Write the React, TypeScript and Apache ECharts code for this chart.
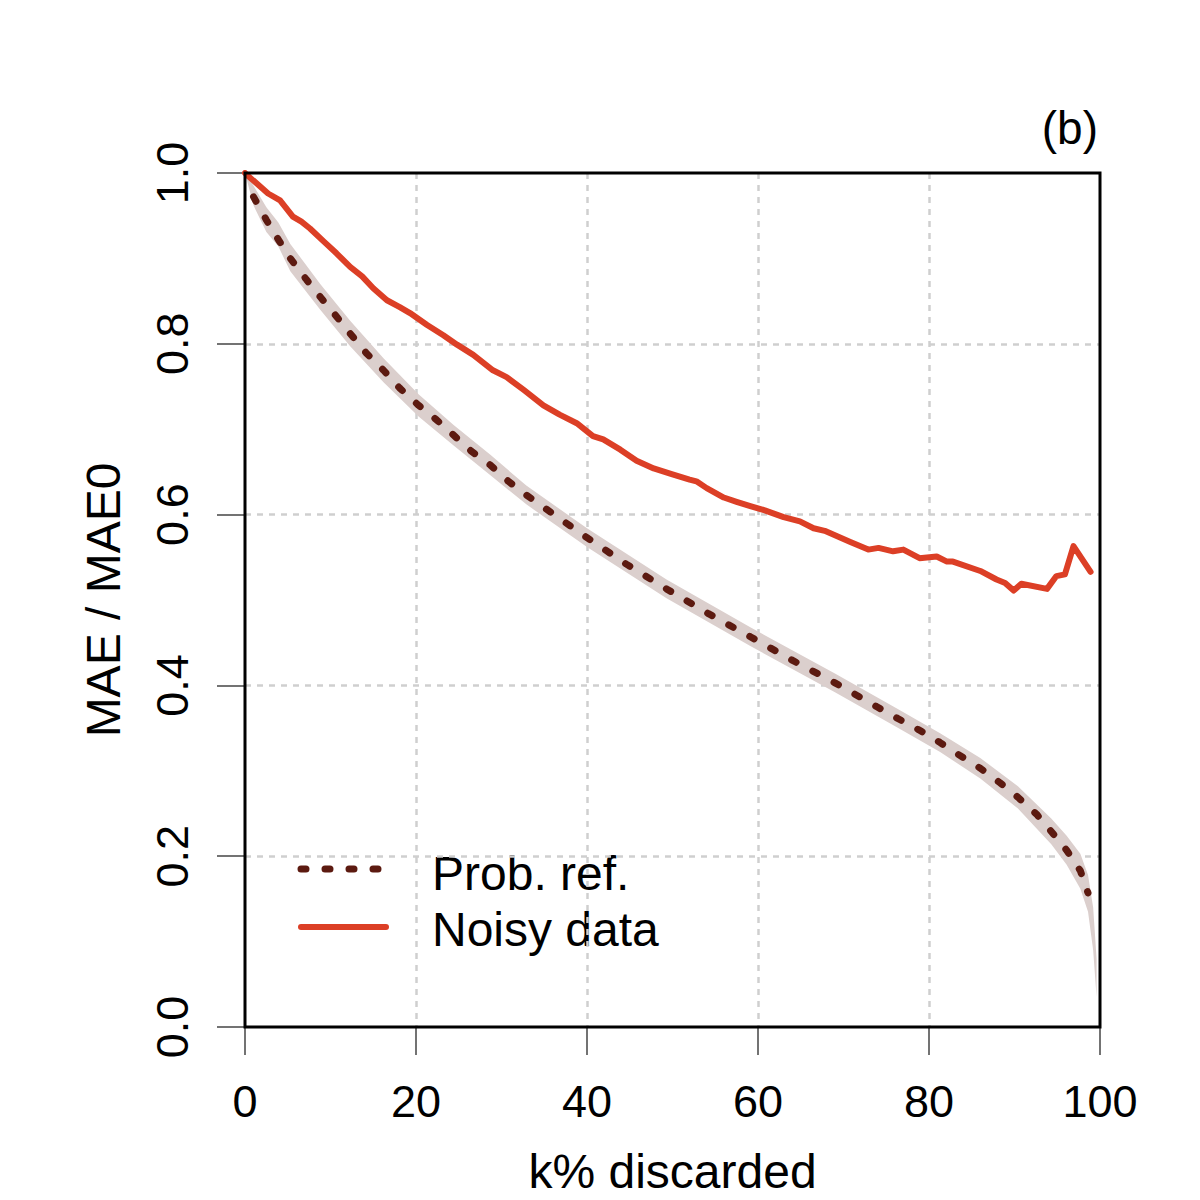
import React, { useEffect, useRef } from "react";
import * as echarts from "echarts";

const xTicks = [0, 20, 40, 60, 80, 100];
const yTicks = [0, 0.2, 0.4, 0.6, 0.8, 1.0];

const noisyX = [0, 0.2, 2.7, 4.1, 5.6, 6.6, 7.6, 9.2, 10.7, 12.3, 13.7, 15.0, 16.6, 18.1, 19.3, 21.3, 23.2, 24.8, 26.7, 29.0, 30.6, 32.6, 34.9, 36.8, 38.8, 40.7, 41.9, 43.9, 45.8, 47.8, 50.0, 52.0, 52.8, 54.0, 56.0, 57.5, 59.1, 60.8, 63.0, 64.9, 66.5, 67.8, 70.8, 72.9, 74.1, 75.8, 77.0, 78.9, 80.9, 82.1, 82.8, 86.0, 87.9, 88.9, 89.9, 90.8, 93.8, 94.9, 95.9, 96.9, 98.9];
const noisyY = [1.0, 0.998, 0.976, 0.968, 0.949, 0.943, 0.935, 0.920, 0.906, 0.890, 0.879, 0.865, 0.851, 0.843, 0.836, 0.822, 0.810, 0.799, 0.787, 0.769, 0.761, 0.746, 0.728, 0.717, 0.707, 0.692, 0.688, 0.676, 0.663, 0.654, 0.647, 0.641, 0.639, 0.631, 0.620, 0.615, 0.610, 0.605, 0.597, 0.592, 0.584, 0.581, 0.568, 0.559, 0.561, 0.557, 0.559, 0.549, 0.551, 0.545, 0.545, 0.534, 0.524, 0.520, 0.511, 0.519, 0.513, 0.528, 0.530, 0.563, 0.533];

const refX = [1.0, 2.5, 3.9, 5.3, 7.2, 8.8, 10.7, 12.3, 14.2, 16.2, 18.1, 20.3, 22.4, 24.4, 26.5, 28.7, 30.8, 32.9, 35.3, 40.0, 44.6, 49.3, 54.2, 59.1, 64.1, 69.0, 73.9, 76.4, 78.8, 81.3, 83.6, 86.0, 88.3, 90.4, 92.6, 94.3, 96.1, 97.7, 98.6];
const refY = [0.972, 0.945, 0.922, 0.900, 0.875, 0.855, 0.832, 0.812, 0.789, 0.769, 0.748, 0.728, 0.711, 0.693, 0.674, 0.658, 0.639, 0.623, 0.606, 0.573, 0.542, 0.513, 0.484, 0.457, 0.429, 0.403, 0.375, 0.361, 0.348, 0.333, 0.318, 0.303, 0.286, 0.269, 0.249, 0.229, 0.207, 0.183, 0.157];

const bandX = [0, 1, 2.5, 3.9, 5.3, 8.8, 12.3, 16.2, 20.3, 24.4, 28.7, 32.9, 40, 49.3, 59.1, 69, 76.4, 81.3, 86, 90.4, 94.3, 96.1, 97.7, 98.6, 99.2, 99.6];
const bandUpper = [1.0, 0.985, 0.960, 0.942, 0.917, 0.870, 0.827, 0.783, 0.741, 0.705, 0.670, 0.634, 0.584, 0.524, 0.468, 0.414, 0.372, 0.344, 0.315, 0.282, 0.244, 0.224, 0.203, 0.178, 0.14, 0.08];
const bandLower = [1.0, 0.962, 0.931, 0.914, 0.885, 0.840, 0.797, 0.755, 0.715, 0.681, 0.646, 0.612, 0.562, 0.502, 0.446, 0.392, 0.350, 0.322, 0.291, 0.256, 0.214, 0.190, 0.162, 0.135, 0.09, 0.035];

const FONT = "Liberation Sans, Arial, sans-serif";
const REF_COLOR = "#5c1a10";
const NOISY_COLOR = "#dc3f26";
const BAND_COLOR = "#dbcfcd";

export default function App() {
  const ref = useRef<HTMLDivElement>(null);
  useEffect(() => {
    if (!ref.current) return;
    const chart = echarts.init(ref.current, null, { renderer: "svg" });
    const option: any = {
      animation: false,
      backgroundColor: "#fff",
      textStyle: { fontFamily: FONT },
      grid: {
        left: 245,
        top: 173,
        width: 855,
        height: 854,
        show: false,
        containLabel: false,
      },
      xAxis: {
        type: "value",
        min: xTicks[0],
        max: xTicks[xTicks.length - 1],
        interval: 20,
        axisLine: { show: false },
        axisTick: { show: true, length: 28, lineStyle: { color: "#444", width: 1.5 } },
        axisLabel: { fontSize: 45, margin: 52, color: "#000", fontFamily: FONT, showMaxLabel: true, showMinLabel: true },
        splitLine: { show: true, showMinLine: false, showMaxLine: false, lineStyle: { color: "#cfcfcf", width: 2.5, type: [6, 6] } },
        name: "k% discarded",
        nameLocation: "middle",
        nameGap: 120,
        nameTextStyle: { fontSize: 48, color: "#000", fontFamily: FONT },
      },
      yAxis: {
        type: "value",
        min: yTicks[0],
        max: yTicks[yTicks.length - 1],
        interval: 0.2,
        axisLine: { show: false },
        axisTick: { show: true, length: 28, lineStyle: { color: "#444", width: 1.5 } },
        axisLabel: {
          fontSize: 45,
          margin: 50,
          rotate: 90,
          color: "#000",
          fontFamily: FONT,
          showMaxLabel: true,
          showMinLabel: true,
          formatter: (v: number) => v.toFixed(1),
        },
        splitLine: { show: true, showMinLine: false, showMaxLine: false, lineStyle: { color: "#cfcfcf", width: 2.5, type: [6, 6] } },
        name: "MAE / MAE0",
        nameLocation: "middle",
        nameGap: 118,
        nameTextStyle: { fontSize: 48, color: "#000", fontFamily: FONT },
      },
      series: [
        {
          type: "custom",
          name: "band",
          data: [[bandX[0], bandUpper[0]]],
          z: 1,
          silent: true,
          renderItem: (params: any, api: any) => {
            if (params.dataIndex !== 0) return null;
            const pts: number[][] = [];
            for (let i = 0; i < bandX.length; i++) pts.push(api.coord([bandX[i], bandUpper[i]]));
            for (let i = bandX.length - 1; i >= 0; i--) pts.push(api.coord([bandX[i], bandLower[i]]));
            return { type: "polygon", shape: { points: pts }, style: { fill: BAND_COLOR } };
          },
        },
        {
          type: "line",
          name: "Prob. ref.",
          data: refX.map((x, i) => [x, refY[i]]),
          showSymbol: false,
          z: 3,
          lineStyle: { color: REF_COLOR, width: 7, type: [5, 19], cap: "round", join: "round" },
        },
        {
          type: "line",
          name: "Noisy data",
          data: noisyX.map((x, i) => [x, noisyY[i]]),
          showSymbol: false,
          z: 4,
          lineStyle: { color: NOISY_COLOR, width: 6, cap: "round", join: "round" },
        },
      ],
      graphic: [
        {
          type: "rect",
          z: 100,
          shape: { x: 245, y: 173, width: 855, height: 854 },
          style: { fill: "none", stroke: "#000", lineWidth: 3 },
          silent: true,
        },
        {
          type: "line",
          shape: { x1: 301, y1: 869, x2: 380, y2: 869 },
          style: { stroke: REF_COLOR, lineWidth: 7, lineDash: [5, 19], lineCap: "round" },
        },
        {
          type: "line",
          shape: { x1: 301, y1: 927, x2: 386, y2: 927 },
          style: { stroke: NOISY_COLOR, lineWidth: 6, lineCap: "round" },
        },
        {
          type: "text",
          x: 432,
          y: 873,
          style: { text: "Prob. ref.", fontSize: 48, fontFamily: FONT, fill: "#000", verticalAlign: "middle", align: "left" },
        },
        {
          type: "text",
          x: 432,
          y: 929,
          style: { text: "Noisy data", fontSize: 48, fontFamily: FONT, fill: "#000", verticalAlign: "middle", align: "left" },
        },
        {
          type: "text",
          x: 1098,
          y: 128,
          style: { text: "(b)", fontSize: 46, fontFamily: FONT, fill: "#000", verticalAlign: "middle", align: "right" },
        },
      ],
    };
    chart.setOption(option);
    return () => chart.dispose();
  }, []);
  return (
    <div
      ref={ref}
      style={{ position: "fixed", left: 0, top: 0, width: 1200, height: 1200, background: "#fff" }}
    />
  );
}
